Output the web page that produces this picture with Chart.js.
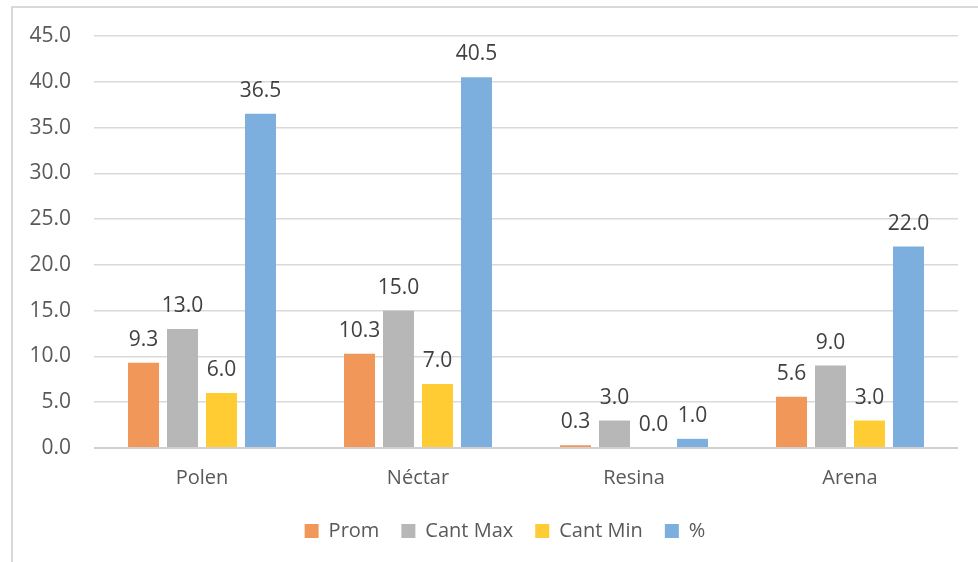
<!DOCTYPE html>
<html>
<head>
<meta charset="utf-8">
<script src="https://cdn.jsdelivr.net/npm/chart.js@4.4.0/dist/chart.umd.min.js"></script>
<style>
  html, body { margin: 0; padding: 0; background: #fff; }
  #wrap { position: absolute; left: 0; top: 0; width: 978px; height: 562px; }
</style>
</head>
<body>
<div id="wrap"><canvas id="chart" width="978" height="562"></canvas></div>
<script>
// categories and series
const categories = ['Polen', 'Néctar', 'Resina', 'Arena'];
const prom = [9.3, 10.3, 0.3, 5.6];
const cantMax = [13.0, 15.0, 3.0, 9.0];
const cantMin = [6.0, 7.0, 0.0, 3.0];
const percent = [36.5, 40.5, 1.0, 22.0];

const textColor = '#595959';
const fontFamily = "'Open Sans', sans-serif";

// value labels above each bar
const valueLabels = {
    id: 'valueLabels',
    afterDatasetsDraw(chart) {
        const ctx = chart.ctx;
        ctx.save();
        ctx.font = '21px ' + fontFamily;
        ctx.fillStyle = '#404040';
        ctx.textAlign = 'center';
        ctx.textBaseline = 'alphabetic';
        chart.data.datasets.forEach((ds, i) => {
            chart.getDatasetMeta(i).data.forEach((bar, j) => {
                ctx.fillText(ds.data[j].toFixed(1), bar.x, bar.y - 17);
            });
        });
        ctx.restore();
    }
};

// light frame round the chart, and legend centred in that frame
const frame = {
    id: 'frame',
    afterLayout(chart) {
        chart.legend.left += 26;
        chart.legend.right += 26;
    },
    beforeDraw(chart) {
        const ctx = chart.ctx;
        ctx.save();
        ctx.strokeStyle = '#d9d9d9';
        ctx.lineWidth = 2;
        ctx.strokeRect(12, 7, 990, 600);
        ctx.restore();
    }
};

const barOpts = { categoryPercentage: 0.722, barPercentage: 0.795 };

new Chart(document.getElementById('chart'), {
    type: 'bar',
    data: {
        labels: categories,
        datasets: [
            { label: 'Prom', data: prom, backgroundColor: '#F1975A', ...barOpts },
            { label: 'Cant Max', data: cantMax, backgroundColor: '#B7B7B7', ...barOpts },
            { label: 'Cant Min', data: cantMin, backgroundColor: '#FFCD33', ...barOpts },
            { label: '%', data: percent, backgroundColor: '#7CAFDD', ...barOpts }
        ]
    },
    options: {
        responsive: false,
        animation: false,
        layout: { padding: { top: 36, right: 20, left: 0, bottom: 11 } },
        plugins: {
            legend: {
                position: 'bottom',
                labels: { color: textColor, font: { size: 20, family: fontFamily }, boxWidth: 14, boxHeight: 14, padding: 22 }
            },
            tooltip: { enabled: false }
        },
        scales: {
            x: {
                grid: { display: false },
                border: { display: false },
                ticks: { color: textColor, font: { size: 20, family: fontFamily }, padding: 10 },
                afterFit: (scale) => { scale.height = 51; }
            },
            y: {
                min: 0,
                max: 45,
                ticks: { stepSize: 5, color: textColor, font: { size: 21, family: fontFamily }, padding: 23, callback: (v) => v.toFixed(1) },
                grid: {
                    drawTicks: false,
                    color: (c) => c.tick && c.tick.value === 0 ? '#d0d0d0' : '#d9d9d9',
                    lineWidth: (c) => c.tick && c.tick.value === 0 ? 2 : 1.5
                },
                border: { display: false },
                afterFit: (scale) => { scale.width = 94; }
            }
        }
    },
    plugins: [frame, valueLabels]
});
</script>
</body>
</html>
